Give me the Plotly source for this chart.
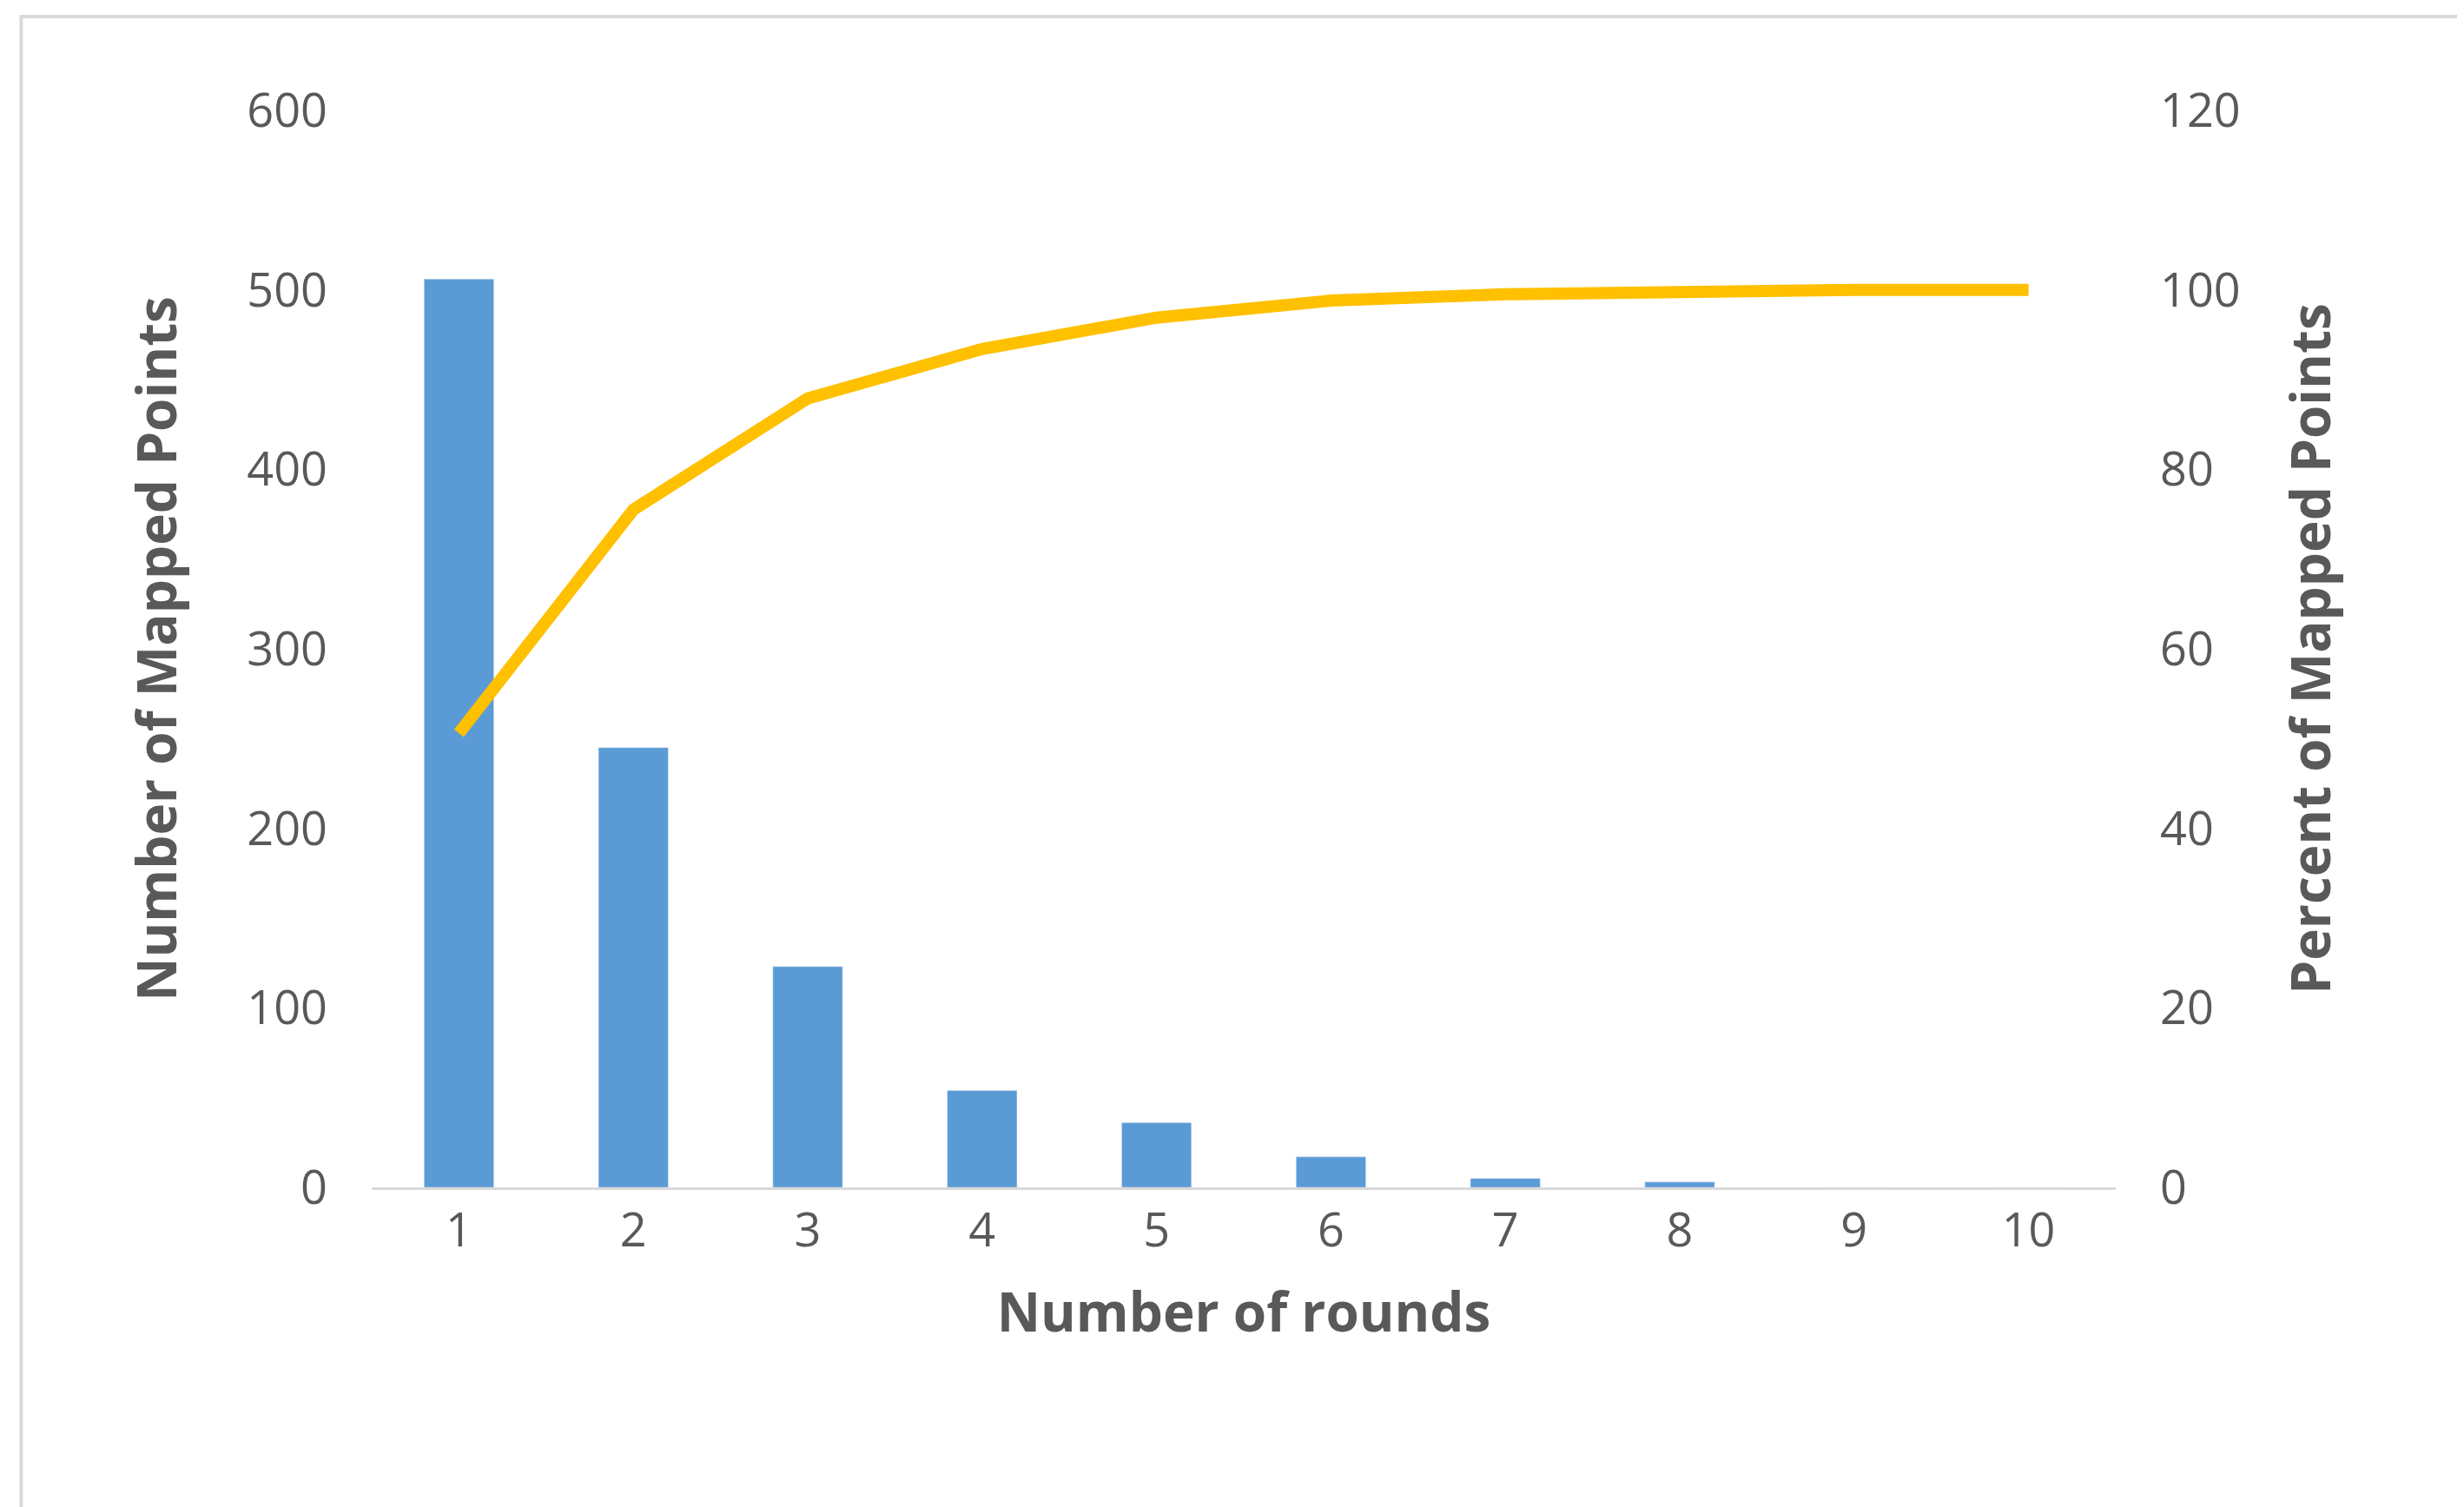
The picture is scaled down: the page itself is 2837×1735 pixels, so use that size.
import plotly.graph_objects as go

rounds = [str(i) for i in range(1, 11)]
counts = [506, 245, 123, 54, 36, 17, 5, 3, 0, 0]
percent = [50.6, 75.5, 87.9, 93.4, 96.9, 98.8, 99.5, 99.8, 100, 100]

W, H = 2837, 1735
fig = go.Figure()
fig.add_bar(x=rounds, y=counts, marker_color="#5B9BD5", width=0.4, yaxis="y")
fig.add_scatter(x=rounds, y=percent, mode="lines", line=dict(color="#FFC000", width=14), yaxis="y2")

gray = "#595959"
tf = dict(family="Open Sans, Calibri, sans-serif", size=54, color=gray)
fig.update_layout(
    width=W, height=H, showlegend=False, paper_bgcolor="white", plot_bgcolor="white",
    margin=dict(l=420, r=W - 2428, t=119, b=H - 1359),
    bargap=0.6,
    xaxis=dict(tickfont=tf, showline=True, linecolor="#D9D9D9", linewidth=3, ticks="",
               title=dict(text="<b>Number of rounds</b>", font=dict(tf, size=62), standoff=40)),
    yaxis=dict(range=[0, 600], dtick=100, tickfont=tf, showgrid=False, zeroline=False, ticks="",
               title=dict(text="<b>Number of Mapped Points</b>", font=dict(tf, size=62), standoff=60)),
    yaxis2=dict(range=[0, 120], dtick=20, tickfont=tf, overlaying="y", side="right", showgrid=False,
                zeroline=False, ticks="",
                title=dict(text="<b>Percent of Mapped Points</b>", font=dict(tf, size=62), standoff=60)),
    shapes=[dict(type="rect", xref="paper", yref="paper", x0=-0.201, x1=1.558, y0=-0.337, y1=1.087,
                 line=dict(color="#D9D9D9", width=4))],
)
fig.update_yaxes(ticklabelstandoff=50)
fig.write_html("out.html")
